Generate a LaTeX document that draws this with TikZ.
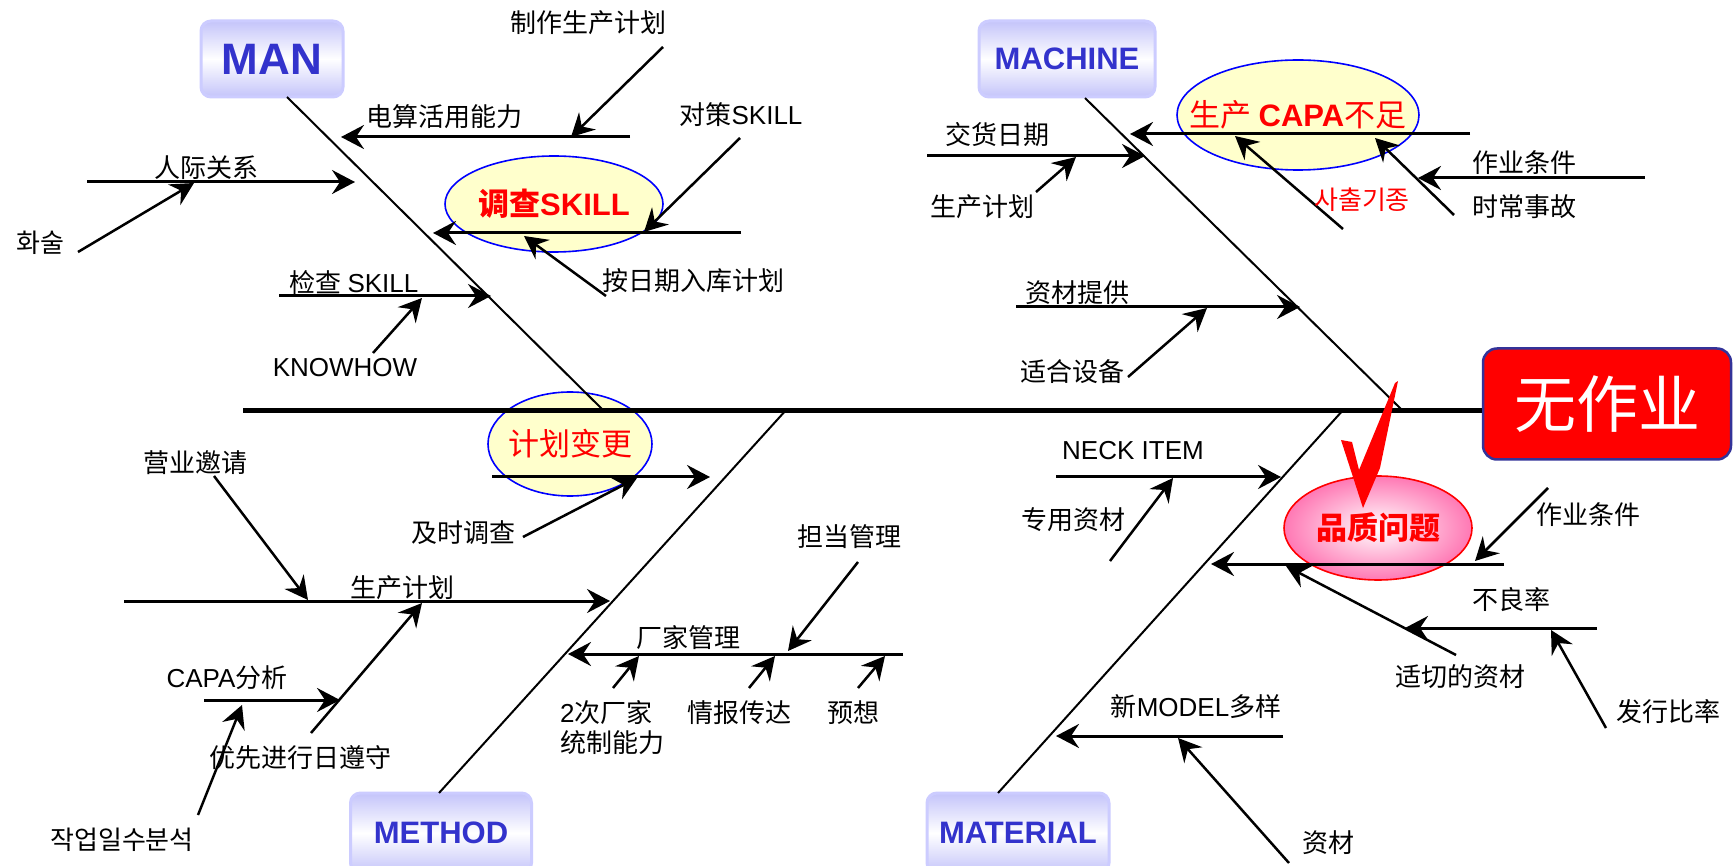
\documentclass[tikz,border=0pt]{standalone}
\usepackage{fontspec}
\setmainfont{Noto Sans CJK SC}
\newfontfamily\lat{Liberation Sans}
\usetikzlibrary{arrows.meta,shapes.geometric}
\definecolor{catblue}{HTML}{3333CC}
\definecolor{catlav}{HTML}{C4C4FA}
\definecolor{catedge}{HTML}{CCCCFF}
\definecolor{hlyellow}{HTML}{FFFFCC}
\definecolor{hlpink}{HTML}{FF78B4}
\definecolor{wzedge}{HTML}{333399}
\newcommand\lblfont{\fontsize{26pt}{30pt}\selectfont}
\newcommand\hlfont{\fontsize{31pt}{34pt}\selectfont}
\begin{document}
\begin{tikzpicture}[x=1pt,y=-1pt,
  fbarrow/.tip={Stealth[length=23pt,width=24pt,inset=8pt]},
  bone/.style={line width=2pt},
  branch/.style={line width=3pt,-fbarrow},
  twig/.style={line width=2.5pt,-fbarrow},
  lab/.style={font=\lblfont,inner sep=0pt},
  cat/.style={draw=catedge,line width=3pt,rounded corners=10pt,top color=catlav,bottom color=catlav,middle color=white,text=catblue,inner sep=0pt},
  hl/.style={ellipse,draw=blue,line width=1.6pt,fill=hlyellow,inner sep=0pt,text=red},
]
\useasboundingbox (0,0) rectangle (1733,866);
\clip (0,0) rectangle (1733,866);
\fill[white] (0,0) rectangle (1733,866);

% highlighted ellipses
\node[hl,minimum width=218pt,minimum height=96pt,font=\hlfont\bfseries] (hlskill) at (554,204) {\makebox[0pt]{调查{\lat SKILL}}};
\node[hl,minimum width=242pt,minimum height=110pt,font=\hlfont] (hlcapa) at (1298,115) {\makebox[0pt]{生产 {\lat\bfseries CAPA}不足}};
\node[hl,minimum width=164pt,minimum height=104pt,font=\hlfont] (hlplan) at (570,444) {\makebox[0pt]{计划变更}};
\node[ellipse,draw=red,line width=1.6pt,inner color=white,outer color=hlpink,text=red,font=\hlfont\bfseries,minimum width=188pt,minimum height=104pt,inner sep=0pt] (hlqual) at (1378,528) {\makebox[0pt]{品质问题}};

% category boxes
\node[cat,minimum width=142pt,minimum height=76pt,font=\lat\bfseries\fontsize{44pt}{48pt}\selectfont] (man) at (272,59) {MAN};
\node[cat,minimum width=176pt,minimum height=76pt,font=\lat\bfseries\fontsize{31pt}{34pt}\selectfont] (mac) at (1067,59) {MACHINE};
\node[cat,minimum width=181pt,minimum height=80pt,font=\lat\bfseries\fontsize{31pt}{34pt}\selectfont] (met) at (441,833) {METHOD};
\node[cat,minimum width=182pt,minimum height=80pt,font=\lat\bfseries\fontsize{31pt}{34pt}\selectfont] (mat) at (1018,833) {MATERIAL};

% effect box
\node[draw=wzedge,line width=2.5pt,fill=red,rounded corners=14pt,minimum width=248pt,minimum height=111pt,text=white,font=\fontsize{62pt}{66pt}\selectfont,inner sep=0pt] (wz) at (1607,404) {无作业};

% coordinates
\coordinate (spL) at (243,411);
\coordinate (manB) at (287,97);  \coordinate (manS) at (604,411);
\coordinate (macB) at (1085,98); \coordinate (macS) at (1403,411);
\coordinate (metB) at (439,793); \coordinate (metS) at (787,409);
\coordinate (matB) at (998,793); \coordinate (matS) at (1344,409);

\coordinate (b1s) at (630,137);  \coordinate (b1e) at (341,137);
\coordinate (t1s) at (663,47);   \coordinate (t1e) at (571,137);
\coordinate (b2s) at (87,182);   \coordinate (b2e) at (355,182);
\coordinate (t2s) at (78,252);   \coordinate (t2e) at (194,183);
\coordinate (b3s) at (741,233);  \coordinate (b3e) at (433,233);
\coordinate (t3s) at (740,138);  \coordinate (t3e) at (644,232);
\coordinate (t4s) at (606,296);  \coordinate (t4e) at (524,236);
\coordinate (b4s) at (279,296);  \coordinate (b4e) at (491,296);
\coordinate (t5s) at (373,353);  \coordinate (t5e) at (422,298);

\coordinate (b5s) at (1470,134); \coordinate (b5e) at (1130,134);
\coordinate (t6s) at (1343,229); \coordinate (t6e) at (1235,136);
\coordinate (t7s) at (1454,215); \coordinate (t7e) at (1375,138);
\coordinate (b6s) at (1645,178); \coordinate (b6e) at (1418,178);
\coordinate (b7s) at (927,156);  \coordinate (b7e) at (1145,156);
\coordinate (t8s) at (1036,192); \coordinate (t8e) at (1076,157);
\coordinate (b8s) at (1016,307); \coordinate (b8e) at (1300,307);
\coordinate (t9s) at (1128,377); \coordinate (t9e) at (1207,308);

\coordinate (b9s) at (492,477);  \coordinate (b9e) at (710,477);
\coordinate (t10s) at (523,537); \coordinate (t10e) at (637,478);
\coordinate (b10s) at (124,601); \coordinate (b10e) at (610,601);
\coordinate (t11s) at (214,476); \coordinate (t11e) at (308,600);
\coordinate (t12s) at (311,733); \coordinate (t12e) at (422,603);
\coordinate (b11s) at (204,700); \coordinate (b11e) at (340,700);
\coordinate (t13s) at (198,815); \coordinate (t13e) at (242,705);
\coordinate (b12s) at (903,654); \coordinate (b12e) at (568,654);
\coordinate (t14s) at (858,562); \coordinate (t14e) at (788,651);
\coordinate (t15s) at (613,688); \coordinate (t15e) at (639,656);
\coordinate (t16s) at (749,688); \coordinate (t16e) at (775,656);
\coordinate (t17s) at (858,688); \coordinate (t17e) at (885,656);

\coordinate (b13s) at (1056,477); \coordinate (b13e) at (1281,477);
\coordinate (t18s) at (1110,561); \coordinate (t18e) at (1173,478);
\coordinate (b14s) at (1504,564); \coordinate (b14e) at (1211,564);
\coordinate (t19s) at (1548,488); \coordinate (t19e) at (1475,561);
\coordinate (t20s) at (1456,655); \coordinate (t20e) at (1286,566);
\coordinate (b15s) at (1597,628); \coordinate (b15e) at (1405,628);
\coordinate (t21s) at (1606,728); \coordinate (t21e) at (1551,630);
\coordinate (b16s) at (1283,736); \coordinate (b16e) at (1056,736);
\coordinate (t22s) at (1289,863); \coordinate (t22e) at (1178,738);

% spine and bones
\draw[line width=5pt] (spL) -- (spL -| wz.west);
\draw[bone] (manB) -- (manS);
\draw[bone] (macB) -- (macS);
\draw[bone] (metB) -- (metS);
\draw[bone] (matB) -- (matS);

% branches
\foreach \n in {1,...,16} {\draw[branch] (b\n s) -- (b\n e);}
\foreach \n in {1,...,22} {\draw[twig] (t\n s) -- (t\n e);}

% labels
\node[lab] (l1) at (444,117) {电算活用能力};
\node[lab] (l2) at (588,23) {制作生产计划};
\node[lab] (l3) at (206,168) {人际关系};
\node[lab] (l4) at (40,243) {화술};
\node[lab] (l5) at (741,115) {对策{\lat SKILL}};
\node[lab] (l6) at (693,281) {按日期入库计划};
\node[lab] (l7) at (354,283) {检查 {\lat SKILL}};
\node[lab] (l8) at (345,368) {\lat KNOWHOW};
\node[lab] (l9) at (997,135) {交货日期};
\node[lab] (l10) at (982,207) {生产计划};
\node[lab,text=red] (l11) at (1362,200) {사출기종};
\node[lab] (l12) at (1524,163) {作业条件};
\node[lab] (l13) at (1524,207) {时常事故};
\node[lab] (l14) at (1077,293) {资材提供};
\node[lab] (l15) at (1072,372) {适合设备};
\node[lab] (l16) at (195,463) {营业邀请};
\node[lab] (l17) at (463,533) {及时调查};
\node[lab] (l18) at (402,588) {生产计划};
\node[lab] (l19) at (227,678) {{\lat CAPA}分析};
\node[lab] (l20) at (300,758) {优先进行日遵守};
\node[lab] (l21) at (122,840) {작업일수분석};
\node[lab] (l22) at (688,638) {厂家管理};
\node[lab] (l23) at (849,537) {担当管理};
\node[lab,anchor=west] (l24) at (560,713) {{\lat 2}次厂家};
\node[lab,anchor=west] (l25) at (560,743) {统制能力};
\node[lab] (l26) at (739,713) {情报传达};
\node[lab] (l27) at (853,713) {预想};
\node[lab] (l28) at (1133,451) {\lat NECK ITEM};
\node[lab] (l29) at (1073,520) {专用资材};
\node[lab] (l30) at (1588,515) {作业条件};
\node[lab] (l31) at (1460,677) {适切的资材};
\node[lab] (l32) at (1511,600) {不良率};
\node[lab] (l33) at (1668,712) {发行比率};
\node[lab] (l34) at (1196,707) {新{\lat MODEL}多样};
\node[lab] (l35) at (1328,843) {资材};

% red check mark
\fill[red] (1398,381) -- (1380,468) -- (1363,508) -- (1341,440) -- (1352,442) -- (1359,470) -- (1395,383) -- cycle;
\end{tikzpicture}
\end{document}
